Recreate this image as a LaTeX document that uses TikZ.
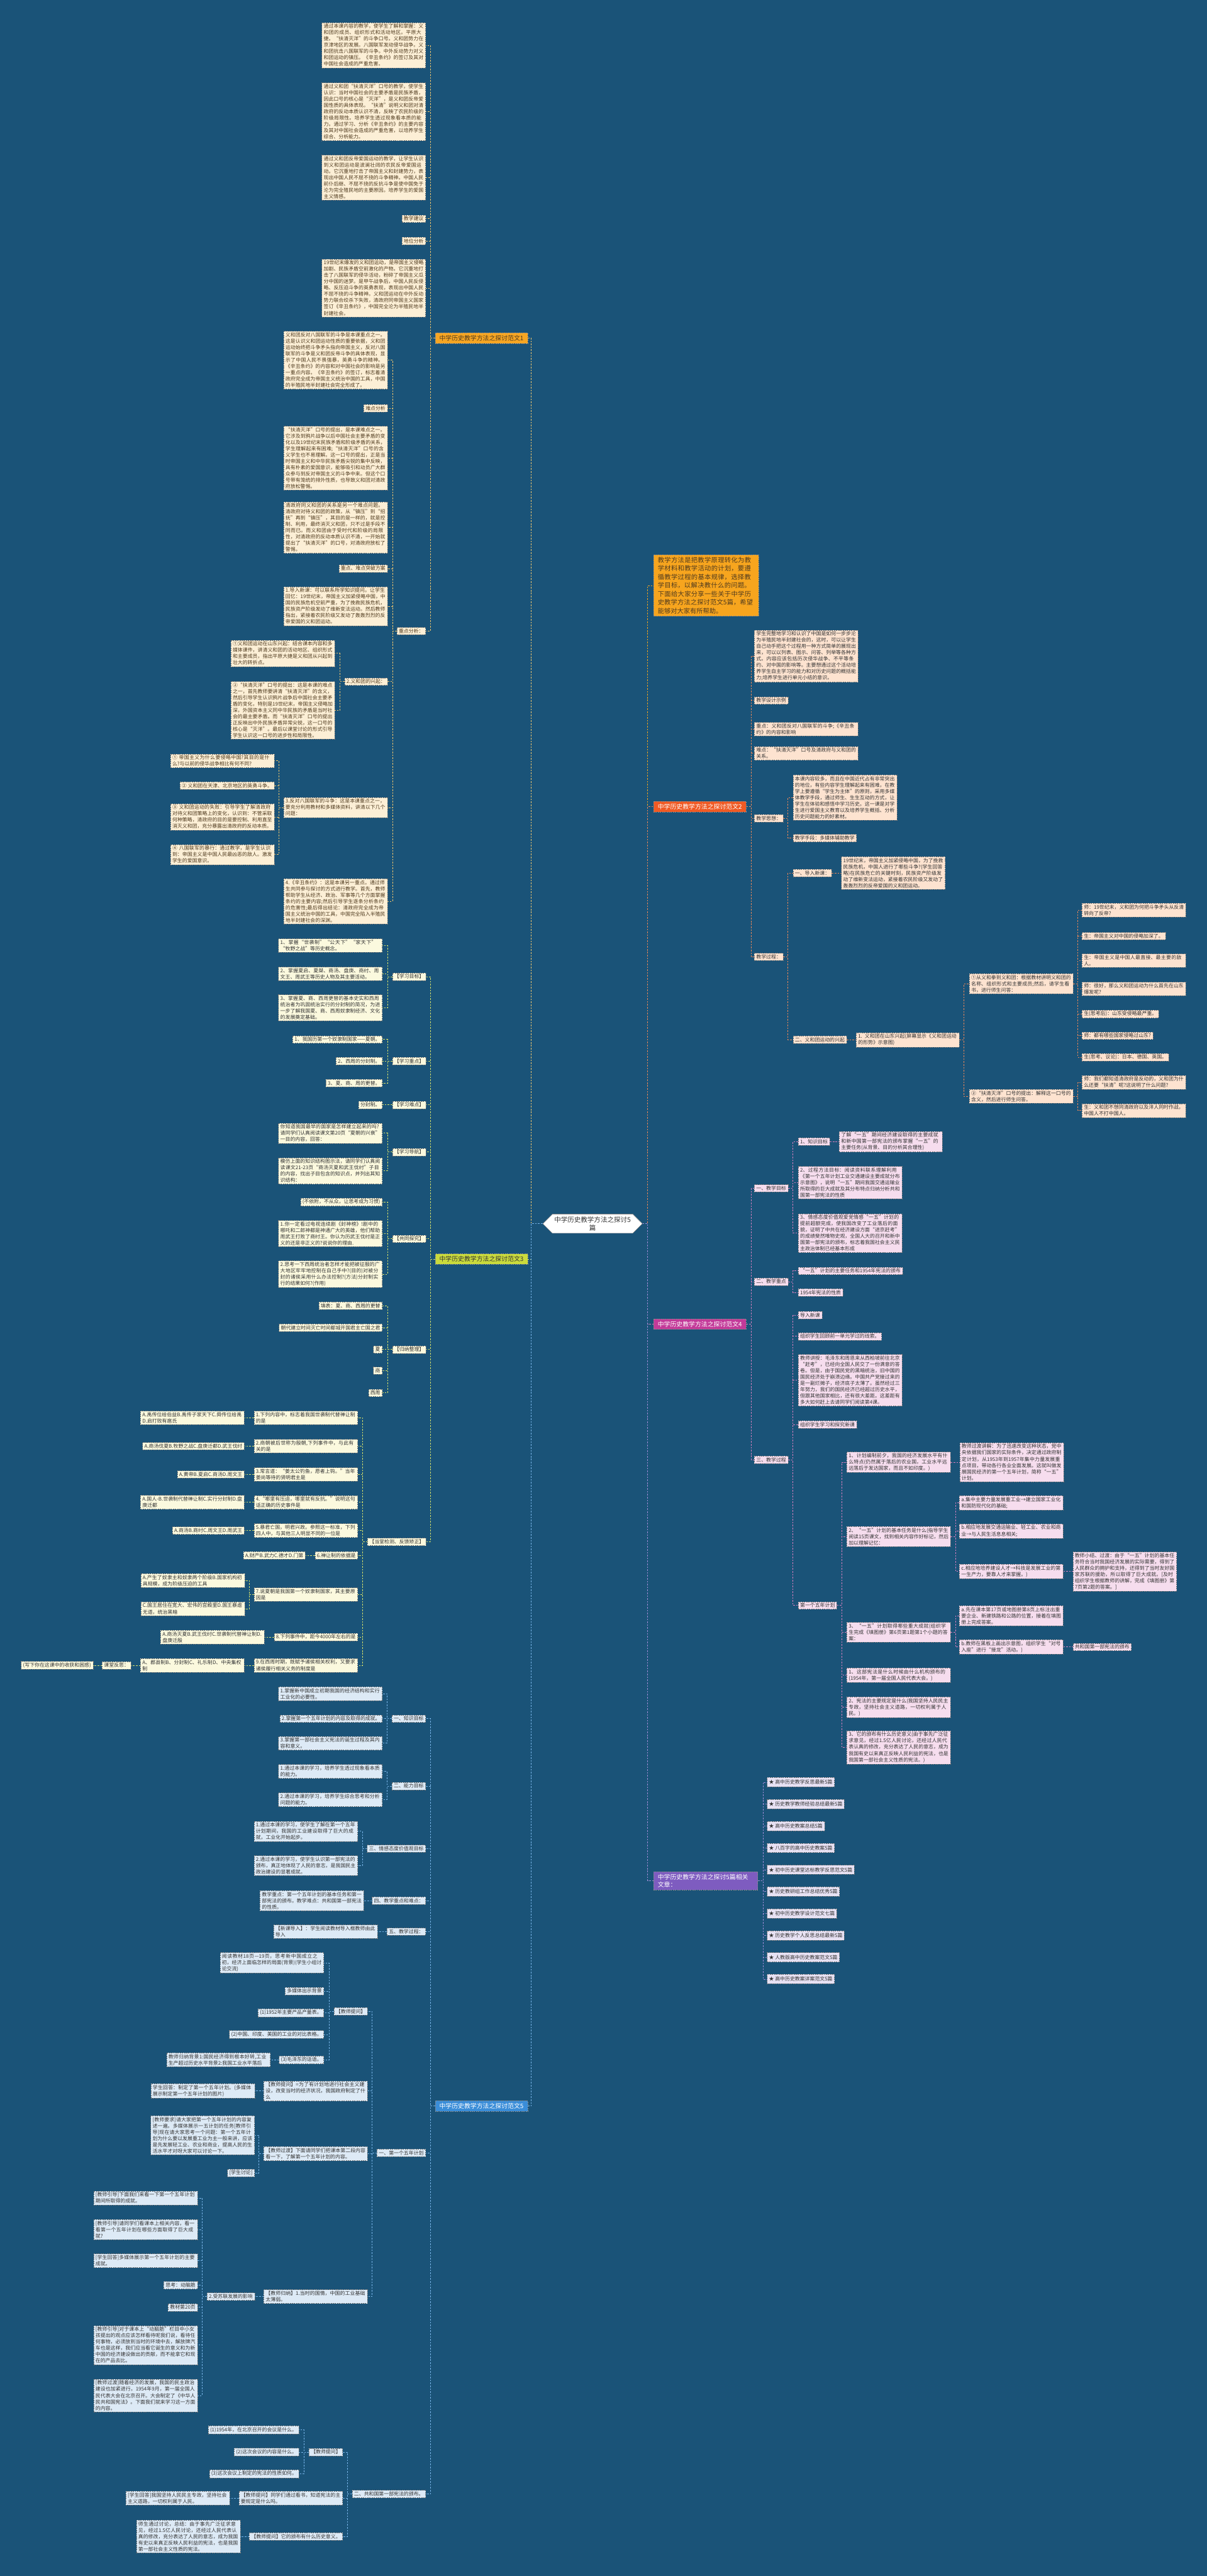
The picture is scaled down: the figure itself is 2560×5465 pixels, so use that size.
\documentclass[tikz,border=0pt]{standalone}
\usepackage{fontspec}
\setmainfont{Noto Sans CJK SC}
\XeTeXlinebreaklocale "zh"
\XeTeXlinebreakskip=0pt plus 1pt
\usepackage{xcolor}
\usepackage{tikz}
\usetikzlibrary{positioning, shapes.symbols}
\definecolor{bg}{HTML}{1A5378}
\definecolor{ink}{HTML}{333333}
\definecolor{ink1}{HTML}{4F3A1E}
\definecolor{cintro}{HTML}{F7A51E}
\definecolor{c1}{HTML}{F6A623}
\definecolor{c1box}{HTML}{FCEFD6}
\definecolor{c1line}{HTML}{F1C66E}
\definecolor{c2}{HTML}{F05A24}
\definecolor{c2box}{HTML}{FDE3D0}
\definecolor{c2line}{HTML}{E9875A}
\definecolor{c3}{HTML}{CADB3C}
\definecolor{c3box}{HTML}{FBF9DE}
\definecolor{c3line}{HTML}{D8E26A}
\definecolor{c4}{HTML}{C33A99}
\definecolor{c4box}{HTML}{F6DDEE}
\definecolor{c4line}{HTML}{D57FBE}
\definecolor{c5}{HTML}{3A8DD8}
\definecolor{c5box}{HTML}{DDEAF6}
\definecolor{c5line}{HTML}{78B4E8}
\definecolor{c6}{HTML}{7E5CC0}
\definecolor{c6box}{HTML}{E7E1F3}
\definecolor{c6line}{HTML}{A08CD6}
\newdimen\pxu \pxu=0.02cm
\newcommand{\boxfont}{\fontsize{6pt}{7.6pt}\selectfont}
\newcommand{\topicfont}{\fontsize{7.5pt}{9.4pt}\selectfont}
\newcommand{\introfont}{\fontsize{7.8pt}{10.2pt}\selectfont}
\newcommand{\rootfont}{\fontsize{8pt}{10pt}\selectfont}
\tikzset{
  cbox/.style={draw=black!55, dash pattern=on 1.5pt off 1.1pt, line width=0.35pt, align=left,
    inner xsep=4\pxu, inner ysep=3\pxu, font=\boxfont, text=ink},
  b1/.style={cbox, fill=c1box, text=ink1, anchor=east},
  b3/.style={cbox, fill=c3box, anchor=east},
  b5/.style={cbox, fill=c5box, anchor=east},
  b2/.style={cbox, fill=c2box, anchor=west},
  b4/.style={cbox, fill=c4box, anchor=west},
  b6/.style={cbox, fill=c6box, anchor=west},
  topic/.style={draw=black!45, dash pattern=on 1.5pt off 1.1pt, line width=0.35pt, align=left,
    inner xsep=9\pxu, inner ysep=5\pxu, font=\topicfont},
  rootnode/.style={signal, signal to=west and east, draw=black!50, fill=white, align=center,
    font=\rootfont, text=ink, inner xsep=4\pxu, inner ysep=5\pxu},
  link/.style={dash pattern=on 2pt off 1.5pt, line width=0.55pt},
  l1/.style={link, draw=c1line}, l2/.style={link, draw=c2line}, l3/.style={link, draw=c3line},
  l4/.style={link, draw=c4line}, l5/.style={link, draw=c5line}, l6/.style={link, draw=c6line}
}

\begin{document}
\begin{tikzpicture}[x=0.02cm, y=-0.02cm]
        % Background
        \fill[bg] (0,0) rectangle (2560,5465);
        \useasboundingbox (0,0) rectangle (2560,5465);

        % Root
        \node[rootnode] (root) at (1257,2596) {中学历史教学方法之探讨5\\篇};

        % Intro
        \node[topic, fill=cintro, text=ink1, font=\introfont, text width=205\pxu, anchor=west] (intro) at (1386,1242)
          {教学方法是把教学原理转化为教学材料和教学活动的计划，要遵循教学过程的基本规律，选择教学目标，以解决教什么的问题。下面给大家分享一些关于中学历史教学方法之探讨范文5篇，希望能够对大家有所帮助。};

        % ---------------- 范文1 (left) ----------------
        \node[topic, fill=c1, text=ink1, anchor=east] (f1) at (1120,717) {中学历史教学方法之探讨范文1};
        \node[b1, text width=212\pxu] (f1goal1) at (903,96) {通过本课内容的教学，使学生了解和掌握：义和团的成员、组织形式和活动地区。平原大捷。“扶清灭洋”的斗争口号。义和团势力在京津地区的发展。八国联军发动侵华战争。义和团抗击八国联军的斗争。中外反动势力对义和团运动的镇压。《辛丑条约》的签订及其对中国社会造成的严重危害。};
        \node[b1, text width=212\pxu] (f1goal2) at (903,237) {通过义和团“扶清灭洋”口号的教学，使学生认识：当时中国社会的主要矛盾是民族矛盾，因此口号的核心是“灭洋”，是义和团反帝爱国性质的具体表现。“扶清”说明义和团对清政府的反动本质认识不清，反映了农民阶级的阶级局限性。培养学生透过现象看本质的能力。通过学习、分析《辛丑条约》的主要内容及其对中国社会造成的严重危害，以培养学生综合、分析能力。};
        \node[b1, text width=212\pxu] (f1goal3) at (903,377) {通过义和团反帝爱国运动的教学，让学生认识到义和团运动是波澜壮阔的农民反帝爱国运动。它沉重地打击了帝国主义和封建势力，表现出中国人民不屈不挠的斗争精神。中国人民前仆后继、不屈不挠的反抗斗争是使中国免于沦为完全殖民地的主要原因。培养学生的爱国主义情感。};
        \node[b1] (f1adv) at (903,464) {教学建议};
        \node[b1] (f1pos) at (903,511) {地位分析};
        \node[b1, text width=212\pxu] (f1bg) at (903,611) {19世纪末爆发的义和团运动，是帝国主义侵略加剧、民族矛盾空前激化的产物。它沉重地打击了八国联军的侵华活动，粉碎了帝国主义瓜分中国的迷梦。是甲午战争后，中国人民反侵略、反压迫斗争的英勇表现，表现出中国人民不屈不挠的斗争精神。义和团运动在中外反动势力联合绞杀下失败，清政府同帝国主义国家签订《辛丑条约》，中国完全沦为半殖民地半封建社会。};
        \node[b1] (f1key) at (903,1339) {重点分析：};

        \node[b1, text width=212\pxu] (f1ka) at (822,764) {义和团反对八国联军的斗争是本课重点之一。这是认识义和团运动性质的重要依据，义和团运动始终把斗争矛头指向帝国主义，反对八国联军的斗争是义和团反帝斗争的具体表现，显示了中国人民不畏强暴，英勇斗争的精神。《辛丑条约》的内容和对中国社会的影响是另一重点内容。《辛丑条约》的签订，标志着清政府完全成为帝国主义统治中国的工具，中国的半殖民地半封建社会完全形成了。};
        \node[b1] (f1nd) at (822,866) {难点分析};
        \node[b1, text width=212\pxu] (f1kb) at (822,972) {“扶清灭洋”口号的提出，是本课难点之一。它涉及到鸦片战争以后中国社会主要矛盾的变化以及19世纪末民族矛盾和阶级矛盾的关系，学生理解起来有困难;“扶清灭洋”口号的含义学生也不易理解。这一口号的提出，正是当时帝国主义和中华民族矛盾尖锐的集中反映，具有朴素的爱国意识，能够吸引和动员广大群众参与到反对帝国主义的斗争中来。但这个口号带有笼统的排外性质，也导致义和团对清政府放松警惕。};
        \node[b1, text width=212\pxu] (f1kc) at (822,1119) {清政府同义和团的关系是另一个难点问题。清政府对待义和团的政策，从“镇压”到“招抚”再到“镇压”，其目的是一样的，就是控制、利用，最终消灭义和团，只不过是手段不同而已。而义和团由于受时代和阶级的局限性，对清政府的反动本质认识不清，一开始就提出了“扶清灭洋”的口号，对清政府放松了警惕。};
        \node[b1] (f1plan) at (822,1206) {重点、难点突破方案};
        \node[b1, text width=212\pxu] (f1kd) at (822,1286) {1.导入新课：可以联系所学知识提问。让学生回忆：19世纪末，帝国主义加紧侵略中国，中国的民族危机空前严重，为了挽救民族危机，民族资产阶级发动了维新变法运动。然后教师指出，紧接着农民阶级又发动了轰轰烈烈的反帝爱国的义和团运动。};
        \node[b1] (f1rise) at (822,1446) {2.义和团的兴起：};
        \node[b1, text width=212\pxu] (f1r1) at (710,1386) {①义和团运动在山东兴起：结合课本内容和多媒体课件，讲清义和团的活动地区、组织形式和主要成员，指出平原大捷是义和团从兴起到壮大的转折点。};
        \node[b1, text width=212\pxu] (f1r2) at (710,1507) {②“扶清灭洋”口号的提出：这是本课的难点之一，首先教师要讲清“扶清灭洋”的含义，然后引导学生认识鸦片战争后中国社会主要矛盾的变化，特别是19世纪末，帝国主义侵略加深，外国资本主义同中华民族的矛盾是当时社会的最主要矛盾。而“扶清灭洋”口号的提出正反映出中外民族矛盾异常尖锐，这一口号的核心是“灭洋”。最后以课堂讨论的形式引导学生认识这一口号的进步性和局限性。};
        \node[b1, text width=212\pxu] (f1fight) at (822,1713) {3.反对八国联军的斗争：这是本课重点之一，要充分利用教材和多媒体资料，讲清以下几个问题：};
        \node[b1, text width=212\pxu] (f1q1) at (582,1614) {① 帝国主义为什么要侵略中国?其目的是什么?与以前的侵华战争相比有何不同?};
        \node[b1] (f1q2) at (582,1667) {② 义和团在天津、北京地区的英勇斗争。};
        \node[b1, text width=212\pxu] (f1q3) at (582,1733) {③ 义和团运动的失败：引导学生了解清政府对待义和团策略上的变化，认识到：不管采取何种策略，清政府的目的是要控制、利用直至消灭义和团，充分暴露出清政府的反动本质。};
        \node[b1, text width=212\pxu] (f1q4) at (582,1813) {④ 八国联军的暴行：通过教学，是学生认识到：帝国主义是中国人民最凶恶的敌人。激发学生的爱国意识。};
        \node[b1, text width=212\pxu] (f1treaty) at (822,1912) {4.《辛丑条约》：这是本课另一重点。通过师生共同参与探讨的方式进行教学。首先，教师帮助学生从经济、政治、军事等几个方面掌握条约的主要内容;然后引导学生逐条分析条约的危害性;最后得出结论：清政府完全成为帝国主义统治中国的工具，中国完全陷入半殖民地半封建社会的深渊。};

        \foreach \c in {f1goal1,f1goal2,f1goal3,f1adv,f1pos,f1bg,f1key}
          \draw[l1] (f1.west) -- ++(-10,0) |- (\c.east);
        \foreach \c in {f1ka,f1nd,f1kb,f1kc,f1plan,f1kd,f1rise,f1fight,f1treaty}
          \draw[l1] (f1key.west) -- ++(-9,0) |- (\c.east);
        \foreach \c in {f1r1,f1r2}
          \draw[l1] (f1rise.west) -- ++(-10,0) |- (\c.east);
        \foreach \c in {f1q1,f1q2,f1q3,f1q4}
          \draw[l1] (f1fight.west) -- ++(-10,0) |- (\c.east);

        % ---------------- 范文3 (left) ----------------
        \node[topic, fill=c3, text=ink, anchor=east] (f3) at (1120,2671) {中学历史教学方法之探讨范文3};
        \node[b3] (f3goal) at (904,2072) {【学习目标】};
        \node[b3, text width=212\pxu] (f3g1) at (811,2006) {1、掌握“世袭制”“公天下”“家天下”“牧野之战”等历史概念。};
        \node[b3, text width=212\pxu] (f3g2) at (811,2066) {2、掌握夏启、夏桀、商汤、盘庚、商纣、周文王、周武王等历史人物及其主要活动。};
        \node[b3, text width=212\pxu] (f3g3) at (811,2138) {3、掌握夏、商、西周更替的基本史实和西周统治者为巩固统治实行的分封制的简况，为进一步了解我国夏、商、西周奴隶制经济、文化的发展奠定基础。};
        \node[b3] (f3key) at (904,2251) {【学习重点】};
        \node[b3] (f3k1) at (811,2205) {1、我国历第一个奴隶制国家——夏朝。};
        \node[b3] (f3k2) at (811,2251) {2、西周的分封制。};
        \node[b3] (f3k3) at (811,2298) {3、夏、商、周的更替。};
        \node[b3] (f3hard) at (904,2344) {【学习难点】};
        \node[b3] (f3h1) at (811,2344) {分封制。};
        \node[b3] (f3nav) at (904,2444) {【学习导航】};
        \node[b3, text width=212\pxu] (f3n1) at (811,2404) {你知道我国最早的国家是怎样建立起来的吗?请同学们认真阅读课文第20页“夏朝的兴衰”一目的内容，回答：};
        \node[b3, text width=212\pxu] (f3n2) at (811,2484) {模仿上面的知识结构图示法，请同学们认真阅读课文21-23页“商汤灭夏和武王伐纣”子目的内容，找出子目包含的知识点，并列出其知识结构：};
        \node[b3] (f3explore) at (904,2628) {【共同探究】};
        \node[b3] (f3e1) at (811,2550) {(不依附，不从众，让思考成为习惯)};
        \node[b3, text width=212\pxu] (f3e2) at (811,2617) {1.你一定看过电视连续剧《封神榜》!剧中的哪吒和二郎神都是神通广大的英雄，他们帮助周武王打败了商纣王。你认为历武王伐纣是正义的还是非正义的?说说你的理由.};
        \node[b3, text width=212\pxu] (f3e3) at (811,2703) {2.思考一下西周统治者怎样才能把被征服的广大地区牢牢地控制在自己手中?(目的)对被分封的诸侯采用什么办法控制?(方法)分封制实行的结果如何?(作用)};
        \node[b3] (f3sum) at (904,2863) {【归纳整理】};
        \node[b3] (f3s1) at (811,2770) {填表：夏、商、西周的更替};
        \node[b3] (f3s2) at (811,2817) {朝代建立时间灭亡时间都城开国君主亡国之君};
        \node[b3] (f3s3) at (811,2863) {夏};
        \node[b3] (f3s4) at (811,2908) {商};
        \node[b3] (f3s5) at (811,2955) {西周};
        \node[b3] (f3test) at (904,3271) {【当堂检测、反馈矫正】};
        \node[b3, text width=212\pxu] (f3t1) at (759,3008) {1.下列内容中，标志着我国世袭制代替禅让制的是};
        \node[b3, text width=212\pxu] (f3t2) at (759,3068) {2.商朝被后世称为殷朝,下列事件中，与此有关的是};
        \node[b3, text width=212\pxu] (f3t3) at (759,3128) {3.常言道：“姜太公钓鱼，愿者上钩。”当年姜尚等待的贤明君主是};
        \node[b3, text width=212\pxu] (f3t4) at (759,3187) {4.“哪里有压迫，哪里就有反抗。”说明这句话正确的历史事件是};
        \node[b3, text width=212\pxu] (f3t5) at (759,3247) {5.暴君亡国，明君兴政。参照这一标准，下列四人中，与其他三人明显不同的一位是};
        \node[b3] (f3t6) at (759,3300) {6.禅让制的依据是};
        \node[b3, text width=212\pxu] (f3t7) at (759,3383) {7.说夏朝是我国第一个奴隶制国家，其主要原因是};
        \node[b3] (f3t8) at (759,3473) {8.下列事件中，距今4000年左右的是};
        \node[b3, text width=212\pxu] (f3t9) at (759,3533) {9.在西周时期，既赋予诸侯相关权利，又要求诸侯履行相关义务的制度是};
        \node[b3, text width=212\pxu, left=0.4cm of f3t1] (f3a1) {A.禹传位给伯益B.禹传子家天下C.舜传位给禹D.启打败有扈氏};
        \node[b3, left=0.4cm of f3t2] (f3a2) {A.商汤伐夏B.牧野之战C.盘庚迁都D.武王伐纣};
        \node[b3, left=0.4cm of f3t3] (f3a3) {A.黄帝B.夏启C.商汤D.周文王};
        \node[b3, text width=212\pxu, left=0.4cm of f3t4] (f3a4) {A.国人-B.世袭制代替禅让制C.实行分封制D.盘庚迁都};
        \node[b3, left=0.4cm of f3t5] (f3a5) {A.商汤B.商纣C.周文王D.周武王};
        \node[b3, left=0.4cm of f3t6] (f3a6) {A.财产B.武力C.德才D.门第};
        \node[b3, text width=212\pxu] (f3a7) at (519,3353) {A.产生了奴隶主和奴隶两个阶级B.国家机构初具规模，成为阶级压迫的工具};
        \node[b3, text width=212\pxu] (f3a8) at (519,3413) {C.国王居住在宽大、宏伟的宫殿里D.国王暴虐无道，统治黑暗};
        \node[b3, text width=212\pxu, left=0.4cm of f3t8] (f3a9) {A.商汤灭夏B.武王伐纣C.世袭制代替禅让制D.盘庚迁殷};
        \node[b3, text width=212\pxu, left=0.4cm of f3t9] (f3a10) {A、郡县制B、分封制C、礼乐制D、中央集权制};
        \node[b3, left=0.4cm of f3a10] (f3refl) {课堂反思：};
        \node[b3, left=0.38cm of f3refl] (f3refl1) {(写下你在这课中的收获和困惑)};

        \foreach \c in {f3goal,f3key,f3hard,f3nav,f3explore,f3sum,f3test}
          \draw[l3] (f3.west) -- ++(-10,0) |- (\c.east);
        \foreach \c in {f3g1,f3g2,f3g3}
          \draw[l3] (f3goal.west) -- ++(-10,0) |- (\c.east);
        \foreach \c in {f3k1,f3k2,f3k3}
          \draw[l3] (f3key.west) -- ++(-10,0) |- (\c.east);
        \draw[l3] (f3hard.west) -- (f3h1.east);
        \foreach \c in {f3n1,f3n2}
          \draw[l3] (f3nav.west) -- ++(-10,0) |- (\c.east);
        \foreach \c in {f3e1,f3e2,f3e3}
          \draw[l3] (f3explore.west) -- ++(-10,0) |- (\c.east);
        \foreach \c in {f3s1,f3s2,f3s3,f3s4,f3s5}
          \draw[l3] (f3sum.west) -- ++(-10,0) |- (\c.east);
        \foreach \c in {f3t1,f3t2,f3t3,f3t4,f3t5,f3t6,f3t7,f3t8,f3t9}
          \draw[l3] (f3test.west) -- ++(-10,0) |- (\c.east);
        \foreach \q/\a in {f3t1/f3a1,f3t2/f3a2,f3t3/f3a3,f3t4/f3a4,f3t5/f3a5,f3t6/f3a6,f3t8/f3a9,f3t9/f3a10,f3a10/f3refl,f3refl/f3refl1}
          \draw[l3] (\q.west) -- (\a.east);
        \foreach \c in {f3a7,f3a8}
          \draw[l3] (f3t7.west) -- ++(-10,0) |- (\c.east);

        % ---------------- 范文5 (left) ----------------
        \node[topic, fill=c5, text=white, anchor=east] (f5) at (1120,4468) {中学历史教学方法之探讨范文5};
        \node[b5] (f5kn) at (903,3646) {一、知识目标};
        \node[b5, text width=212\pxu] (f5kn1) at (811,3593) {1.掌握新中国成立初期我国的经济结构和实行工业化的必要性。};
        \node[b5] (f5kn2) at (811,3646) {2.掌握第一个五年计划的内容及取得的成就。};
        \node[b5, text width=212\pxu] (f5kn3) at (811,3698) {3.掌握第一部社会主义宪法的诞生过程及其内容和意义。};
        \node[b5] (f5ab) at (903,3789) {二、能力目标};
        \node[b5, text width=212\pxu] (f5ab1) at (811,3758) {1.通过本课的学习，培养学生透过现象看本质的能力。};
        \node[b5, text width=212\pxu] (f5ab2) at (811,3818) {2.通过本课的学习，培养学生综合思考和分析问题的能力。};
        \node[b5] (f5em) at (903,3922) {三、情感态度价值观目标};
        \node[b5, text width=212\pxu] (f5em1) at (759,3885) {1.通过本课的学习，使学生了解在第一个五年计划期间，我国的工业建设取得了巨大的成就，工业化开始起步。};
        \node[b5, text width=212\pxu] (f5em2) at (759,3958) {2.通过本课的学习，使学生认识第一部宪法的颁布，真正地体现了人民的意志，是我国民主政治建设的显著成就。};
        \node[b5] (f5diff) at (903,4032) {四、教学重点和难点：};
        \node[b5, text width=212\pxu, left=0.34cm of f5diff] (f5diff1) {教学重点：第一个五年计划的基本任务和第一部宪法的颁布。教学难点：共和国第一部宪法的性质。};
        \node[b5] (f5proc) at (903,4098) {五、教学过程：};
        \node[b5, text width=212\pxu, left=0.4cm of f5proc] (f5proc1) {【新课导入】：学生阅读教材导入框教师由此导入};
        \node[b5] (f5plan) at (903,4567) {一、第一个五年计划};
        \node[b5] (f5ask) at (780,4267) {【教师提问】};
        \node[b5, text width=212\pxu] (f5ask1) at (687,4164) {阅读教材18页—19页，思考新中国成立之初，经济上面临怎样的局面(背景)(学生小组讨论交流)};
        \node[b5] (f5ask2) at (687,4224) {多媒体出示背景};
        \node[b5] (f5ask3) at (687,4270) {(1)1952年主要产品产量表。};
        \node[b5] (f5ask4) at (687,4316) {(2)中国、印度、美国的工业的对比表格。};
        \node[b5] (f5ask5) at (687,4370) {(3)毛泽东的话语。};
        \node[b5, text width=212\pxu, left=0.36cm of f5ask5] (f5ask5a) {教师归纳背景1:国民经济得到根本好转,工业生产超过历史水平背景2:我国工业水平落后};
        \node[b5, text width=212\pxu] (f5ask6) at (780,4436) {【教师提问】=为了有计划地进行社会主义建设，改变当时的经济状况，我国政府制定了什么};
        \node[b5, text width=212\pxu, left=0.38cm of f5ask6] (f5ask6a) {学生回答：制定了第一个五年计划。(多媒体展示制定第一个五年计划的图片)};
        \node[b5, text width=212\pxu] (f5trans) at (780,4569) {【教师过渡】下面请同学们把课本第二段内容看一下，了解第一个五年计划的内容。};
        \node[b5, text width=212\pxu] (f5tr1) at (540,4530) {[教师要求]请大家把第一个五年计划的内容复述一遍。多媒体展示一五计划的任务[教师引导]现在请大家思考一个问题：第一个五年计划为什么要以发展重工业为主一般来讲，应该是先发展轻工业、农业和商业，提高人民的生活水平才对呀大家可以讨论一下。};
        \node[b5] (f5tr2) at (540,4610) {[学生讨论]};
        \node[b5, text width=212\pxu] (f5sum) at (780,4872) {【教师归纳】1.当时的国情，中国的工业基础太薄弱。};
        \node[b5, left=0.38cm of f5sum] (f5sum1) {2.受苏联发展的影响};
        \node[b5, text width=212\pxu] (f5s1) at (419,4663) {[教师引导]下面我们来看一下第一个五年计划期间所取得的成就。};
        \node[b5, text width=212\pxu] (f5s2) at (419,4730) {[教师引导]请同学们看课本上相关内容，看一看第一个五年计划在哪些方面取得了巨大成就?};
        \node[b5, text width=212\pxu] (f5s3) at (419,4796) {[学生回答]多媒体展示第一个五年计划的主要成就。};
        \node[b5] (f5s4) at (419,4848) {思考：动脑筋};
        \node[b5] (f5s5) at (419,4895) {教材第20页};
        \node[b5, text width=212\pxu] (f5s6) at (419,4975) {[教师引导]对于课本上“动脑筋”栏目中小女孩提出的观点应该怎样看待呢我们说，看待任何事物，必须放到当时的环境中去，解放牌汽车也是这样，我们应当看它诞生的意义和为新中国的经济建设做出的贡献，而不能拿它和现在的产品去比。};
        \node[b5, text width=212\pxu] (f5s7) at (419,5082) {[教师过渡]随着经济的发展，我国的民主政治建设也加紧进行。1954年9月，第一届全国人民代表大会在北京召开。大会制定了《中华人民共和国宪法》。下面我们就来学习这一方面的内容。};
        \node[b5] (f5law) at (903,5291) {二、共和国第一部宪法的颁布。};
        \node[b5] (f5l1) at (727,5202) {【教师提问】};
        \node[b5] (f5l1a) at (634,5155) {(1)1954年，在北京召开的会议是什么。};
        \node[b5] (f5l1b) at (634,5202) {(2)这次会议的内容是什么。};
        \node[b5] (f5l1c) at (634,5248) {(3)这次会议上制定的宪法的性质如何。};
        \node[b5, text width=212\pxu] (f5l2) at (727,5300) {【教师提问】同学们通过看书，知道宪法的主要规定是什么吗。};
        \node[b5, text width=212\pxu, left=0.38cm of f5l2] (f5l2a) {[学生回答]我国坚持人民民主专政，坚持社会主义道路，一切权利属于人民。};
        \node[b5] (f5l3) at (727,5381) {【教师提问】它的颁布有什么历史意义。};
        \node[b5, text width=212\pxu, left=0.38cm of f5l3] (f5l3a) {师生通过讨论，总结：由于事先广泛征求意见，经过1.5亿人民讨论，还经过人民代表认真的修改，充分表达了人民的意志，成为我国有史以来真正反映人民利益的宪法，也是我国第一部社会主义性质的宪法。};

        \foreach \c in {f5kn,f5ab,f5em,f5diff,f5proc,f5plan,f5law}
          \draw[l5] (f5.west) -- ++(-10,0) |- (\c.east);
        \foreach \c in {f5kn1,f5kn2,f5kn3}
          \draw[l5] (f5kn.west) -- ++(-10,0) |- (\c.east);
        \foreach \c in {f5ab1,f5ab2}
          \draw[l5] (f5ab.west) -- ++(-10,0) |- (\c.east);
        \foreach \c in {f5em1,f5em2}
          \draw[l5] (f5em.west) -- ++(-10,0) |- (\c.east);
        \foreach \c in {f5ask,f5ask6,f5trans,f5sum}
          \draw[l5] (f5plan.west) -- ++(-10,0) |- (\c.east);
        \foreach \c in {f5ask1,f5ask2,f5ask3,f5ask4,f5ask5}
          \draw[l5] (f5ask.west) -- ++(-10,0) |- (\c.east);
        \foreach \c in {f5tr1,f5tr2}
          \draw[l5] (f5trans.west) -- ++(-10,0) |- (\c.east);
        \foreach \c in {f5s1,f5s2,f5s3,f5s4,f5s5,f5s6,f5s7}
          \draw[l5] (f5sum1.west) -- ++(-10,0) |- (\c.east);
        \foreach \c in {f5l1,f5l2,f5l3}
          \draw[l5] (f5law.west) -- ++(-10,0) |- (\c.east);
        \foreach \c in {f5l1a,f5l1b,f5l1c}
          \draw[l5] (f5l1.west) -- ++(-10,0) |- (\c.east);
        \foreach \q/\a in {f5diff/f5diff1,f5proc/f5proc1,f5ask5/f5ask5a,f5ask6/f5ask6a,f5sum/f5sum1,f5l2/f5l2a,f5l3/f5l3a}
          \draw[l5] (\q.west) -- (\a.east);

        % ---------------- 范文2 (right) ----------------
        \node[topic, fill=c2, text=white, anchor=west] (f2) at (1386,1711) {中学历史教学方法之探讨范文2};
        \node[b2, text width=212\pxu] (f2c1) at (1600,1392) {学生完整地学习和认识了中国是如何一步步沦为半殖民地半封建社会的，这时，可以让学生自己动手把这个过程用一种方式简单的展现出来，可以以列表、图示、问答、列举等各种方式。内容应该包括历次侵华战争、不平等条约、对中国的影响等。主要想通过这个活动培养学生自主学习的能力和对历史问题的概括能力;培养学生进行单元小结的意识。};
        \node[b2] (f2c2) at (1600,1486) {教学设计示例};
        \node[b2, text width=212\pxu] (f2c3) at (1600,1547) {重点：义和团反对八国联军的斗争;《辛丑条约》的内容和影响};
        \node[b2, text width=212\pxu] (f2c4) at (1600,1598) {难点：“扶清灭洋”口号及清政府与义和团的关系。};
        \node[b2] (f2idea) at (1600,1736) {教学思想：};
        \node[b2, text width=212\pxu] (f2i1) at (1682,1692) {本课内容较多，而且在中国近代占有非常突出的地位，有些内容学生理解起来有困难，在教学上要遵循“学生为主体”的原则，采用多媒体教学手段，通过师生、生生互动的方式，让学生在体验和感悟中学习历史。这一课是对学生进行爱国主义教育以及培养学生概括、分析历史问题能力的好素材。};
        \node[b2] (f2i2) at (1682,1778) {教学手段：多媒体辅助教学};
        \node[b2] (f2proc) at (1600,2030) {教学过程：};
        \node[b2] (f2intro) at (1682,1852) {一、导入新课：};
        \node[b2, text width=212\pxu, right=0.4cm of f2intro] (f2intro1) {19世纪末，帝国主义加紧侵略中国，为了挽救民族危机，中国人进行了哪些斗争?(学生回答略)在民族危亡的关键时刻，民族资产阶级发动了维新变法运动，紧接着农民阶级又发动了轰轰烈烈的反帝爱国的义和团运动。};
        \node[b2] (f2rise) at (1682,2206) {二、义和团运动的兴起};
        \node[b2, text width=210\pxu, right=0.4cm of f2rise] (f2rise1) {1. 义和团在山东兴起(屏幕显示《义和团运动的形势》示意图)};
        \node[b2, text width=212\pxu] (f2r1) at (2056,2087) {①从义和拳到义和团：根据教材讲明义和团的名称、组织形式和主要成员;然后，请学生看书，进行师生问答：};
        \node[b2, text width=212\pxu] (f2r2) at (2056,2326) {②“扶清灭洋”口号的提出：解释这一口号的含义，然后进行师生问答。};
        \node[b2, text width=212\pxu] (f2q1) at (2295,1931) {师：19世纪末，义和团为何把斗争矛头从反清转向了反帝?};
        \node[b2] (f2q2) at (2295,1986) {生：帝国主义对中国的侵略加深了。};
        \node[b2, text width=212\pxu] (f2q3) at (2295,2038) {生：帝国主义是中国人最直接、最主要的敌人。};
        \node[b2, text width=212\pxu] (f2q4) at (2295,2098) {师：很好，那么义和团运动为什么首先在山东爆发呢?};
        \node[b2] (f2q5) at (2295,2151) {生(思考后)：山东受侵略最严重。};
        \node[b2] (f2q6) at (2295,2197) {师：都有哪些国家侵略过山东?};
        \node[b2] (f2q7) at (2295,2243) {生(思考、议论)：日本、德国、英国。};
        \node[b2, text width=212\pxu] (f2q8) at (2295,2296) {师：我们都知道清政府是反动的，义和团为什么还要“扶清”呢?这说明了什么问题?};
        \node[b2, text width=212\pxu] (f2q9) at (2295,2356) {生：义和团不想同清政府以及洋人同时作战，中国人不打中国人。};

        \foreach \c in {f2c1,f2c2,f2c3,f2c4,f2idea,f2proc}
          \draw[l2] (f2.east) -- ++(10,0) |- (\c.west);
        \foreach \c in {f2i1,f2i2}
          \draw[l2] (f2idea.east) -- ++(10,0) |- (\c.west);
        \foreach \c in {f2intro,f2rise}
          \draw[l2] (f2proc.east) -- ++(10,0) |- (\c.west);
        \foreach \c in {f2r1,f2r2}
          \draw[l2] (f2rise1.east) -- ++(10,0) |- (\c.west);
        \foreach \c in {f2q1,f2q2,f2q3,f2q4,f2q5,f2q6,f2q7}
          \draw[l2] (f2r1.east) -- ++(10,0) |- (\c.west);
        \foreach \c in {f2q8,f2q9}
          \draw[l2] (f2r2.east) -- ++(10,0) |- (\c.west);
        \draw[l2] (f2intro.east) -- (f2intro1.west);
        \draw[l2] (f2rise.east) -- (f2rise1.west);

        % ---------------- 范文4 (right) ----------------
        \node[topic, fill=c4, text=white, anchor=west] (f4) at (1386,2809) {中学历史教学方法之探讨范文4};
        \node[b4] (f4goal) at (1600,2521) {一、教学目标};
        \node[b4] (f4g1) at (1693,2422) {1、知识目标};
        \node[b4, text width=210\pxu, right=0.4cm of f4g1] (f4g1x) {了解“一五”期间经济建设取得的主要成就和新中国第一部宪法的颁布掌握“一五”的主要任务(从背景、目的分析其合理性)};
        \node[b4, text width=212\pxu] (f4g2) at (1693,2509) {2、过程方法目标：阅读资料联系理解利用《第一个五年计划工业交通建设主要成就分布示意图》，说明“一五”期间我国交通运输业所取得的巨大成就及其分布特点归纳分析共和国第一部宪法的性质};
        \node[b4, text width=212\pxu] (f4g3) at (1693,2616) {3、情感态度价值观爱党情感“一五”计划的提前超额完成，使我国改变了工业落后的面貌，证明了中共在经济建设方面“进京赶考”的成绩斐然唯物史观，全国人大的召开和新中国第一部宪法的颁布，标志着我国社会主义民主政治体制已经基本形成};
        \node[b4] (f4key) at (1600,2719) {二、教学重点};
        \node[b4] (f4k1) at (1693,2696) {“一五”计划的主要任务和1954年宪法的颁布};
        \node[b4] (f4k2) at (1693,2742) {1954年宪法的性质};
        \node[b4] (f4proc) at (1600,3097) {三、教学过程};
        \node[b4] (f4p1) at (1693,2790) {导入新课};
        \node[b4] (f4p2) at (1693,2835) {组织学生回顾前一单元学过的线索。};
        \node[b4, text width=212\pxu] (f4p3) at (1693,2928) {教师讲授：毛泽东和周恩来从西柏坡前往北京“赶考”，已经向全国人民交了一份满意的答卷。但是，由于国民党的黑暗统治，旧中国的国民经济处于崩溃边缘。中国共产党接过来的是一副烂摊子，经济底子太薄了。虽然经过三年努力，我们的国民经济已经超过历史水平，但跟其他国家相比，还有很大差距。这差距有多大如何赶上去请同学们阅读第4课。};
        \node[b4] (f4p4) at (1693,3022) {组织学生学习和探究新课};
        \node[b4] (f4plan) at (1693,3406) {第一个五年计划};
        \node[b4, text width=212\pxu] (f4a1) at (1796,3102) {1、计划编制前夕，我国的经济发展水平有什么特点(仍然属于落后的农业国，工业水平远远落后于发达国家，而且不如印度。)};
        \node[b4, text width=212\pxu, right=0.38cm of f4a1] (f4a1x) {教师过渡讲解：为了迅速改变这种状态，党中央依据我们国家的实际条件，决定通过政府制定计划，从1953年到1957年集中力量发展重点项目，带动各行各业全面发展。这就叫做发展国民经济的第一个五年计划，简称“一五”计划。};
        \node[b4, text width=212\pxu] (f4a2) at (1796,3260) {2、“一五”计划的基本任务是什么(指导学生阅读15页课文，找到相关内容作好标记，然后加以理解记忆：};
        \node[b4, text width=212\pxu] (f4b1) at (2035,3188) {a.集中主要力量发展重工业→建立国家工业化和国防现代化的基础;};
        \node[b4, text width=212\pxu] (f4b2) at (2035,3248) {b.相应地发展交通运输业、轻工业、农业和商业→与人民生活息息相关;};
        \node[b4, text width=212\pxu] (f4b3) at (2035,3334) {c.相应地培养建设人才→科技是发展工业的第一生产力，要靠人才来掌握。)};
        \node[b4, text width=212\pxu, right=0.4cm of f4b3] (f4b3x) {教师小结、过渡：由于“一五”计划的基本任务符合当时我国经济发展的实际需要，得到了人民群众的拥护和支持，还得到了当时友好国家苏联的援助，所以取得了巨大成就。[及时组织学生根据教师的讲解，完成《填图册》第7页第2题的答案。]};
        \node[b4, text width=212\pxu] (f4a3) at (1796,3463) {3、“一五”计划取得哪些重大成就(组织学生完成《填图册》第6页第1题第1个小题的答案：};
        \node[b4, text width=212\pxu] (f4c1) at (2035,3428) {a.先在课本第17页或地图册第8页上标注出重要企业、新建铁路和公路的位置，接着在填图册上完成答案。};
        \node[b4, text width=212\pxu] (f4c2) at (2035,3494) {b.教师在黑板上画出示意图，组织学生“对号入座”进行“接龙”活动。)};
        \node[b4, right=0.4cm of f4c2] (f4c2x) {共和国第一部宪法的颁布};
        \node[b4, text width=212\pxu] (f4a4) at (1796,3554) {1、这部宪法是什么时候由什么机构颁布的(1954年，第一届全国人民代表大会。)};
        \node[b4, text width=212\pxu] (f4a5) at (1796,3622) {2、宪法的主要规定是什么(我国坚持人民民主专政，坚持社会主义道路，一切权利属于人民。)};
        \node[b4, text width=212\pxu] (f4a6) at (1796,3707) {3、它的颁布有什么历史意义(由于事先广泛征求意见，经过1.5亿人民讨论，还经过人民代表认真的修改，充分表达了人民的意志，成为我国有史以来真正反映人民利益的宪法，也是我国第一部社会主义性质的宪法。)};

        \foreach \c in {f4goal,f4key,f4proc}
          \draw[l4] (f4.east) -- ++(10,0) |- (\c.west);
        \foreach \c in {f4g1,f4g2,f4g3}
          \draw[l4] (f4goal.east) -- ++(10,0) |- (\c.west);
        \foreach \c in {f4k1,f4k2}
          \draw[l4] (f4key.east) -- ++(10,0) |- (\c.west);
        \foreach \c in {f4p1,f4p2,f4p3,f4p4,f4plan}
          \draw[l4] (f4proc.east) -- ++(10,0) |- (\c.west);
        \foreach \c in {f4a1,f4a2,f4a3,f4a4,f4a5,f4a6}
          \draw[l4] (f4plan.east) -- ++(10,0) |- (\c.west);
        \foreach \c in {f4b1,f4b2,f4b3}
          \draw[l4] (f4a2.east) -- ++(10,0) |- (\c.west);
        \foreach \c in {f4c1,f4c2}
          \draw[l4] (f4a3.east) -- ++(10,0) |- (\c.west);
        \foreach \q/\a in {f4g1/f4g1x,f4a1/f4a1x,f4b3/f4b3x,f4c2/f4c2x}
          \draw[l4] (\q.east) -- (\a.west);

        % ---------------- 相关文章 (right) ----------------
        \node[topic, fill=c6, text=white, text width=203\pxu, anchor=west] (f6) at (1386,3990) {中学历史教学方法之探讨5篇相关\\文章：};
        \foreach \t [count=\i] in {高中历史教学反思最新5篇,历史教学教师经验总结最新5篇,高中历史教案总结5篇,八百字的高中历史教案5篇,初中历史课堂达标教学反思范文5篇,历史教研组工作总结优秀5篇,初中历史教学设计范文七篇,历史教学个人反思总结最新5篇,人教版高中历史教案范文5篇,高中历史教案详案范文5篇}
          \node[b6, inner ysep=5\pxu] (f6a\i) at (1627,3781+46.4*\i-46.4) {★ \t};
        \foreach \i in {1,...,10}
          \draw[l6] (f6.east) -- ++(11,0) |- (f6a\i.west);

        % Main branches
        \draw[link, draw=c1line] (root.west) -- ++(-24,0) |- (f1.east);
        \draw[link, draw=c3line] (root.west) -- ++(-24,0) |- (f3.east);
        \draw[link, draw=c5line] (root.west) -- ++(-24,0) |- (f5.east);
        \draw[link, draw=cintro] (root.east) -- ++(11,0) |- (intro.west);
        \draw[link, draw=c2line] (root.east) -- ++(11,0) |- (f2.west);
        \draw[link, draw=c4line] (root.east) -- ++(11,0) |- (f4.west);
        \draw[link, draw=c6line] (root.east) -- ++(11,0) |- (f6.west);
\end{tikzpicture}
\end{document}
